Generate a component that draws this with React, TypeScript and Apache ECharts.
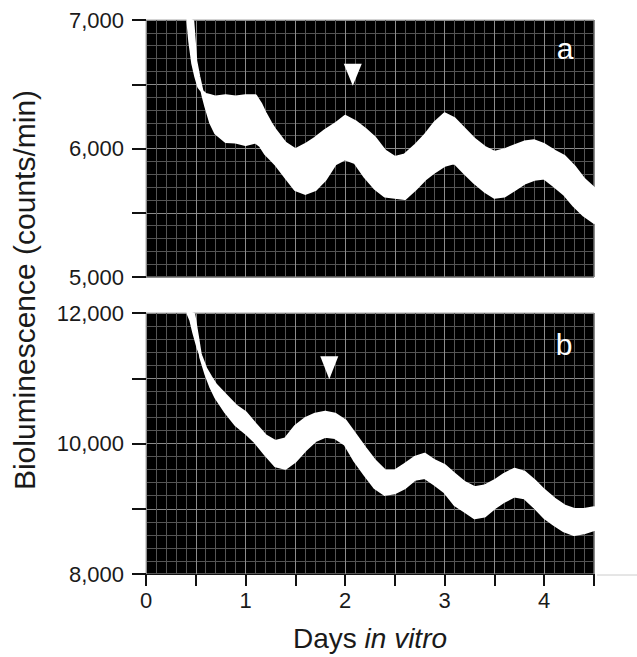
import React, { useEffect, useRef } from "react";
import * as echarts from "echarts";

// ---- Panel a (top) : white band envelope ----
const daysA = [0.42, 0.44, 0.47, 0.5, 0.53, 0.57, 0.6, 0.65, 0.7, 0.8, 0.9, 1.0, 1.1, 1.15, 1.2, 1.25, 1.3, 1.4, 1.5, 1.6, 1.7, 1.8, 1.9, 2.0, 2.1, 2.2, 2.3, 2.4, 2.5, 2.6, 2.7, 2.8, 2.9, 3.0, 3.1, 3.2, 3.3, 3.4, 3.5, 3.6, 3.7, 3.8, 3.9, 4.0, 4.1, 4.2, 4.3, 4.4, 4.5];
const upperA = [7000, 6830, 6660, 6560, 6480, 6440, 6420, 6410, 6400, 6410, 6400, 6410, 6410, 6350, 6270, 6200, 6140, 6040, 5990, 6030, 6080, 6140, 6190, 6250, 6210, 6150, 6080, 5980, 5930, 5950, 6020, 6100, 6200, 6270, 6230, 6150, 6070, 6010, 5970, 5990, 6020, 6050, 6060, 6030, 5980, 5940, 5860, 5760, 5690];
const lowerA = [7000, 7000, 6990, 6680, 6560, 6420, 6330, 6200, 6120, 6055, 6050, 6030, 6050, 6020, 5960, 5920, 5880, 5780, 5680, 5650, 5680, 5760, 5880, 5920, 5890, 5780, 5690, 5630, 5620, 5610, 5680, 5760, 5820, 5870, 5890, 5810, 5735, 5670, 5620, 5630, 5680, 5730, 5760, 5770, 5710, 5645, 5555, 5480, 5425];

// ---- Panel b (bottom) ----
const daysB = [0.42, 0.45, 0.48, 0.52, 0.55, 0.6, 0.65, 0.7, 0.8, 0.9, 1.0, 1.1, 1.2, 1.3, 1.4, 1.5, 1.6, 1.7, 1.8, 1.9, 2.0, 2.1, 2.2, 2.3, 2.4, 2.5, 2.6, 2.7, 2.8, 2.9, 3.0, 3.1, 3.2, 3.3, 3.4, 3.5, 3.6, 3.7, 3.8, 3.9, 4.0, 4.1, 4.2, 4.3, 4.4, 4.5];
const upperB = [12000, 11890, 11700, 11480, 11350, 11150, 11020, 10900, 10740, 10580, 10470, 10290, 10120, 10030, 10070, 10260, 10380, 10450, 10480, 10450, 10350, 10140, 9930, 9730, 9580, 9580, 9680, 9785, 9836, 9733, 9660, 9528, 9400, 9323, 9349, 9426, 9528, 9605, 9560, 9430, 9280, 9150, 9045, 8990, 8990, 9015];
const lowerB = [12000, 12000, 11980, 11610, 11320, 11070, 10870, 10710, 10480, 10290, 10165, 10020, 9830, 9660, 9620, 9733, 9900, 10045, 10110, 10090, 9990, 9730, 9520, 9320, 9220, 9246, 9323, 9451, 9477, 9374, 9260, 9066, 8964, 8861, 8887, 9015, 9118, 9195, 9169, 9030, 8870, 8760, 8660, 8605, 8630, 8680];

// ---- Arrowhead markers ----
const markerA = [2.077, 6574];
const markerB = [1.841, 11160];

// ---- Axes ----
const xMin = 0;
const xMax = 4.5;
const xStep = 0.5;
const yRangeA = [5000, 7000];
const yStepA = 500;
const yLabelStepA = 1000;
const yRangeB = [8000, 12000];
const yStepB = 1000;
const yLabelStepB = 2000;

const FONT = "Liberation Sans, Arial, Helvetica, sans-serif";

function bandRenderer(days: number[], upper: number[], lower: number[]) {
  return (params: any, api: any) => {
    const pts: number[][] = [];
    for (let i = 0; i < days.length; i++) pts.push(api.coord([days[i], upper[i]]));
    for (let i = days.length - 1; i >= 0; i--) pts.push(api.coord([days[i], lower[i]]));
    return {
      type: "polygon",
      shape: { points: pts },
      style: { fill: "#ffffff", stroke: "#ffffff", lineWidth: 3, lineJoin: "round" },
    };
  };
}

const fmtThousands = (v: number) => v.toLocaleString("en-US");

export default function App() {
  const ref = useRef<HTMLDivElement>(null);
  useEffect(() => {
    if (!ref.current) return;
    const chart = echarts.init(ref.current, null, { renderer: "svg" });

    const splitMajor = { show: true, lineStyle: { color: "#8c8c8c", width: 1 } };
    const splitMinor = { show: true, lineStyle: { color: "#555555", width: 1 } };

    const xCommon = {
      type: "value",
      min: xMin,
      max: xMax,
      interval: xStep,
      splitLine: splitMajor,
      minorTick: { show: false, splitNumber: 5 },
      minorSplitLine: splitMinor,
    };

    chart.setOption({
      animation: false,
      backgroundColor: "#ffffff",
      grid: [
        { left: 146, top: 20, width: 448, height: 257, show: true, backgroundColor: "#000000", borderColor: "#a8a8a8", borderWidth: 1, z: 0 },
        { left: 146, top: 313, width: 448, height: 261, show: true, backgroundColor: "#000000", borderColor: "#a8a8a8", borderWidth: 1, z: 0 },
      ],
      xAxis: [
        {
          ...xCommon,
          gridIndex: 0,
          axisLine: { show: false },
          axisTick: { show: false },
          axisLabel: { show: false },
        },
        {
          ...xCommon,
          gridIndex: 1,
          axisLine: { show: true, onZero: false, lineStyle: { color: "#111", width: 1 } },
          axisTick: { show: true, inside: false, length: 12, lineStyle: { color: "#111", width: 2 } },
          axisLabel: {
            show: true,
            margin: 15,
            fontSize: 22,
            fontFamily: FONT,
            color: "#1a1a1a",
            formatter: (v: number) => (Math.abs(v - Math.round(v)) < 1e-6 ? String(Math.round(v)) : ""),
          },
          name: "{n|Days }{i|in vitro}",
          nameLocation: "middle",
          nameGap: 50,
          nameTextStyle: {
            rich: {
              n: { fontSize: 28, fontFamily: FONT, color: "#1a1a1a" },
              i: { fontSize: 28, fontFamily: FONT, fontStyle: "italic", color: "#1a1a1a" },
            },
          },
        },
      ],
      yAxis: [
        {
          type: "value",
          gridIndex: 0,
          min: yRangeA[0],
          max: yRangeA[1],
          interval: yStepA,
          axisLine: { show: false },
          axisTick: { show: true, inside: false, length: 14, lineStyle: { color: "#111", width: 2 } },
          axisLabel: {
            margin: 22,
            fontSize: 22,
            fontFamily: FONT,
            color: "#1a1a1a",
            formatter: (v: number) => (v % yLabelStepA === 0 ? fmtThousands(v) : ""),
          },
          splitLine: splitMajor,
          minorTick: { show: false, splitNumber: 5 },
          minorSplitLine: splitMinor,
        },
        {
          type: "value",
          gridIndex: 1,
          min: yRangeB[0],
          max: yRangeB[1],
          interval: yStepB,
          axisLine: { show: false },
          axisTick: { show: true, inside: false, length: 14, lineStyle: { color: "#111", width: 2 } },
          axisLabel: {
            margin: 22,
            fontSize: 22,
            fontFamily: FONT,
            color: "#1a1a1a",
            formatter: (v: number) => (v % yLabelStepB === 0 ? fmtThousands(v) : ""),
          },
          splitLine: splitMajor,
          minorTick: { show: false, splitNumber: 5 },
          minorSplitLine: splitMinor,
        },
      ],
      series: [
        {
          type: "custom",
          xAxisIndex: 0,
          yAxisIndex: 0,
          silent: true,
          z: 3,
          data: [[daysA[0], upperA[0]]],
          renderItem: bandRenderer(daysA, upperA, lowerA),
        },
        {
          type: "custom",
          xAxisIndex: 1,
          yAxisIndex: 1,
          silent: true,
          z: 3,
          data: [[daysB[0], upperB[0]]],
          renderItem: bandRenderer(daysB, upperB, lowerB),
        },
        {
          type: "scatter",
          xAxisIndex: 0,
          yAxisIndex: 0,
          symbol: "triangle",
          symbolRotate: 180,
          symbolSize: [18, 22],
          itemStyle: { color: "#ffffff", opacity: 1 },
          silent: true,
          z: 4,
          data: [markerA],
        },
        {
          type: "scatter",
          xAxisIndex: 1,
          yAxisIndex: 1,
          symbol: "triangle",
          symbolRotate: 180,
          symbolSize: [18, 23],
          itemStyle: { color: "#ffffff", opacity: 1 },
          silent: true,
          z: 4,
          data: [markerB],
        },
      ],
      graphic: [
        {
          type: "text",
          x: 24,
          y: 290,
          rotation: Math.PI / 2,
          style: {
            text: "Bioluminescence (counts/min)",
            fontSize: 30,
            fontFamily: FONT,
            fill: "#1a1a1a",
            textAlign: "center",
            textVerticalAlign: "middle",
          },
        },
        {
          type: "text",
          x: 565,
          y: 48,
          z: 10,
          style: { text: "a", fontSize: 30, fontFamily: FONT, fill: "#ffffff", textAlign: "center", textVerticalAlign: "middle" },
        },
        {
          type: "text",
          x: 564,
          y: 344,
          z: 10,
          style: { text: "b", fontSize: 30, fontFamily: FONT, fill: "#ffffff", textAlign: "center", textVerticalAlign: "middle" },
        },
        {
          type: "line",
          shape: { x1: 597, y1: 575, x2: 637, y2: 575 },
          style: { stroke: "#cccccc", lineWidth: 1 },
        },
      ],
    });

    return () => chart.dispose();
  }, []);

  return <div ref={ref} style={{ position: "fixed", left: 0, top: 0, width: 637, height: 657, background: "#fff" }} />;
}
